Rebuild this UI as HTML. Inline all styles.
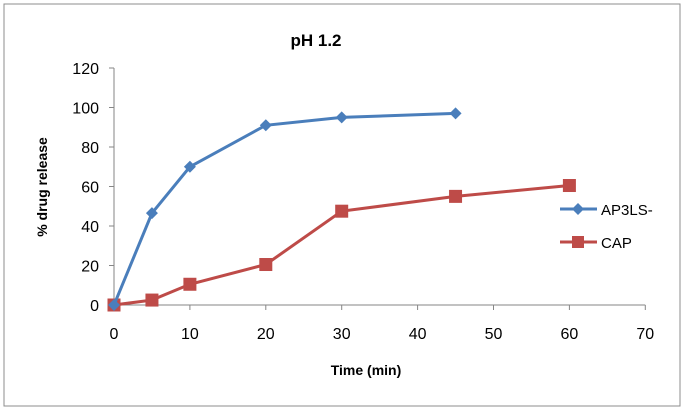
<!DOCTYPE html>
<html><head><meta charset="utf-8"><style>
body{margin:0;background:#fff;font-family:"Liberation Sans",Arial,sans-serif;}
svg{display:block}
</style></head><body>
<svg id="chart" width="685" height="411">
<rect x="4" y="4" width="676" height="402" fill="#fff" stroke="#8c8c8c"/>
<text x="316" y="46" font-size="17" font-weight="bold" text-anchor="middle">pH 1.2</text>
<text x="366" y="375" font-size="14" font-weight="bold" text-anchor="middle">Time (min)</text>
<text transform="translate(47,187) rotate(-90)" font-size="14" font-weight="bold" text-anchor="middle">% drug release</text>
<g id="axes"></g>
<g id="series"></g>
<g>
<line x1="560" y1="209" x2="597" y2="209" stroke="#4a7ebb" stroke-width="3"/>
<polygon points="578,203 584,209 578,215 572,209" fill="#4a7ebb"/>
<text x="601" y="215" font-size="15">AP3LS-</text>
<line x1="560" y1="242" x2="597" y2="242" stroke="#be4b48" stroke-width="3"/>
<rect x="572" y="236" width="12" height="12" fill="#be4b48"/>
<text x="601" y="248" font-size="15">CAP</text>
</g>
</svg>
<script>
const xTicks=[0,10,20,30,40,50,60,70];
const yTicks=[0,20,40,60,80,100,120];
const apX=[0,5,10,20,30,45];
const apY=[0,46.5,70,91,95,97];
const capX=[0,5,10,20,30,45,60];
const capY=[0,2.5,10.5,20.5,47.5,55,60.5];
const NS="http://www.w3.org/2000/svg";
function xs(v){return 114+v*7.59;}
function ys(v){return 305-v*1.975;}
function mk(t,a,p){const e=document.createElementNS(NS,t);for(const k in a)e.setAttribute(k,a[k]);p.appendChild(e);return e;}
const ax=document.getElementById('axes');
let l=mk('line',{x1:xs(0),y1:ys(0),x2:xs(70),y2:ys(0),stroke:'#868686'},ax);


l=mk('line',{x1:xs(0),y1:ys(0),x2:xs(0),y2:ys(120),stroke:'#868686'},ax);


xTicks.forEach(v=>{
 const t=mk('line',{x1:xs(v),y1:ys(0),x2:xs(v),y2:ys(0)+5,stroke:'#868686'},ax);
 
 
 const tx=mk('text',{x:xs(v),y:339,'font-size':16,'text-anchor':'middle'},ax);tx.textContent=v;
 
 
});
yTicks.forEach(v=>{
 const t=mk('line',{x1:xs(0)-5,y1:ys(v),x2:xs(0),y2:ys(v),stroke:'#868686'},ax);
 
 
 const tx=mk('text',{x:99,y:ys(v)+6,'font-size':16,'text-anchor':'end'},ax);tx.textContent=v;
 
 
});
const sg=document.getElementById('series');
function series(X,Y,col,name,diamond){
 const p=mk('polyline',{points:X.map((x,i)=>xs(x)+','+ys(Y[i])).join(' '),fill:'none',stroke:col,'stroke-width':3},sg);
 
 
 X.forEach((x,i)=>{
  const cx=xs(x),cy=ys(Y[i]);let m;
  if(diamond)m=mk('polygon',{points:`${cx},${cy-6} ${cx+6},${cy} ${cx},${cy+6} ${cx-6},${cy}`,fill:col},sg);
  else m=mk('rect',{x:cx-6.5,y:cy-6.5,width:13,height:13,fill:col},sg);
  
  
 });
}
series(capX,capY,'#be4b48','cap',false);
series(apX,apY,'#4a7ebb','ap3ls',true);
</script>
</body></html>
